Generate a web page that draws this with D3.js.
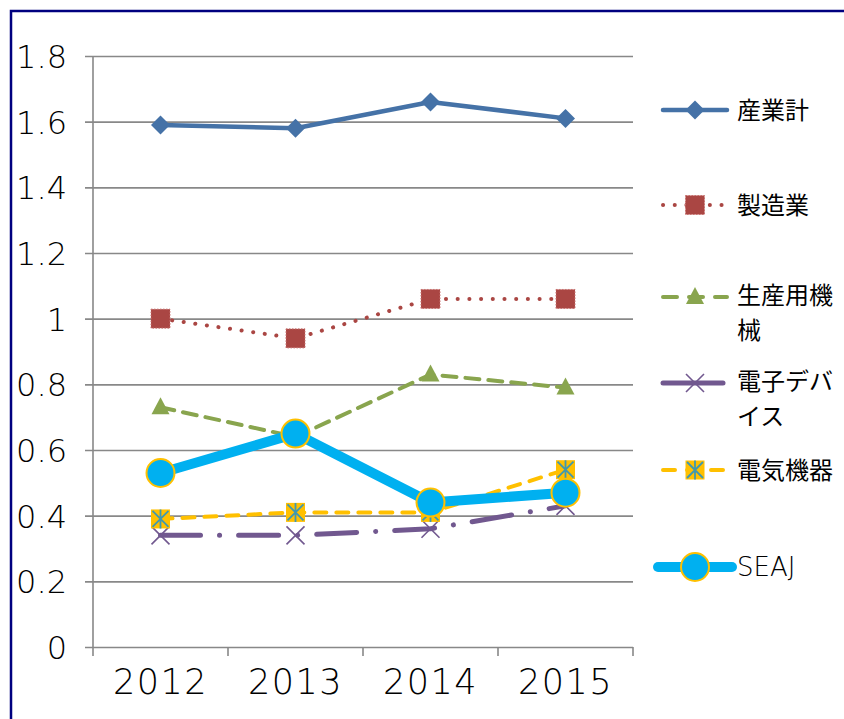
<!DOCTYPE html>
<html>
<head>
<meta charset="utf-8">
<script src="https://cdnjs.cloudflare.com/ajax/libs/d3/7.8.5/d3.min.js"></script>
<style>
  body { margin: 0; background: #fff; }
  text { font-family: "Noto Sans CJK JP", "DejaVu Sans", sans-serif; fill: #000; }
  .num { font-family: "DejaVu Sans", sans-serif; font-weight: 200; }
</style>
</head>
<body>
<svg id="chart" width="844" height="719"></svg>
<script>
var years = ["2012", "2013", "2014", "2015"];
var yTicks = [0, 0.2, 0.4, 0.6, 0.8, 1, 1.2, 1.4, 1.6, 1.8];
var seriesNames = ["産業計", "製造業", "生産用機械", "電子デバイス", "電気機器", "SEAJ"];
var legendLines = [["産業計"], ["製造業"], ["生産用機", "械"], ["電子デバ", "イス"], ["電気機器"], ["SEAJ"]];
var sangyokei = [1.59, 1.58, 1.66, 1.61];
var seizogyo = [1.00, 0.94, 1.06, 1.06];
var seisanyoKikai = [0.73, 0.64, 0.83, 0.79];
var denshiDevice = [0.34, 0.34, 0.36, 0.43];
var denkiKiki = [0.39, 0.41, 0.41, 0.54];
var seaj = [0.53, 0.65, 0.44, 0.47];

var allValues = [sangyokei, seizogyo, seisanyoKikai, denshiDevice, denkiKiki, seaj];

// styles for each series
var styles = [
    {color: "#4572A7", width: 4.5, dash: null, marker: "diamond"},
    {color: "#AA4643", width: 4, dash: "0.1,11.6", marker: "square"},
    {color: "#89A54E", width: 4, dash: "14,9", marker: "triangle"},
    {color: "#71588F", width: 5, dash: "40,19,0.1,19", marker: "x"},
    {color: "#FFC000", width: 4, dash: "12,10", marker: "star"},
    {color: "#00B0F0", width: 10, dash: null, marker: "circle"}
];

var svg = d3.select("#chart");

// outer frame
svg.append("path")
    .attr("d", "M11,760 L11,11 L900,11")
    .attr("fill", "none")
    .attr("stroke", "#00007F")
    .attr("stroke-width", 2.5);

var x = d3.scaleBand().domain(years).range([93, 633]);
var y = d3.scaleLinear().domain([0, 1.8]).range([647, 56]);

// y axis with gridlines
var yAxis = svg.append("g")
    .attr("transform", "translate(93,0)")
    .call(d3.axisLeft(y).tickValues(yTicks).tickFormat(d3.format("")).tickSize(8).tickPadding(18));
yAxis.select(".domain").remove();
yAxis.selectAll(".tick line")
    .attr("x1", -8)
    .attr("x2", 540)
    .attr("stroke", "#888")
    .attr("stroke-width", 1.6);
yAxis.selectAll(".tick text")
    .attr("class", "num")
    .style("font-size", "32px")
    .style("font-family", "'DejaVu Sans', sans-serif")
    .style("font-weight", 200)
    .attr("dy", "0.36em")
    .attr("fill", "#000");

svg.append("line")
    .attr("x1", 93).attr("x2", 93)
    .attr("y1", y(1.8)).attr("y2", y(0))
    .attr("stroke", "#888")
    .attr("stroke-width", 1.6);

// x axis ticks at category boundaries
var bounds = years.map(function(d){ return x(d); }).concat([x(years[years.length - 1]) + x.bandwidth()]);
svg.selectAll(".xtick")
    .data(bounds)
    .enter().append("line")
    .attr("x1", function(d){ return d; })
    .attr("x2", function(d){ return d; })
    .attr("y1", y(0))
    .attr("y2", y(0) + 9)
    .attr("stroke", "#888")
    .attr("stroke-width", 1.6);

svg.selectAll(".xlabel")
    .data(years)
    .enter().append("text")
    .attr("class", "num")
    .attr("x", function(d){ return x(d) + x.bandwidth() / 2; })
    .attr("y", 694)
    .attr("text-anchor", "middle")
    .style("font-size", "35px")
    .style("letter-spacing", "1.5px")
    .text(function(d){ return d; });

function drawMarker(g, type, cx, cy, st) {
    if (type === "diamond") {
        g.append("path")
            .attr("d", "M" + cx + "," + (cy - 9.5) + " L" + (cx + 9.5) + "," + cy + " L" + cx + "," + (cy + 9.5) + " L" + (cx - 9.5) + "," + cy + "Z")
            .attr("fill", st.color);
    } else if (type === "square") {
        g.append("rect")
            .attr("x", cx - 9.5).attr("y", cy - 9.5)
            .attr("width", 19).attr("height", 19)
            .attr("fill", st.color)
            .attr("stroke", "#C87270")
            .attr("stroke-width", 1)
            .attr("stroke-dasharray", "1.5,1.5");
    } else if (type === "triangle") {
        g.append("path")
            .attr("d", "M" + cx + "," + (cy - 10) + " L" + (cx + 9) + "," + (cy + 7) + " L" + (cx - 9) + "," + (cy + 7) + "Z")
            .attr("fill", st.color);
    } else if (type === "x") {
        g.append("path")
            .attr("d", "M" + (cx - 9) + "," + (cy - 9) + " L" + (cx + 9) + "," + (cy + 9) + " M" + (cx + 9) + "," + (cy - 9) + " L" + (cx - 9) + "," + (cy + 9))
            .attr("stroke", st.color)
            .attr("stroke-width", 1.6)
            .attr("fill", "none");
    } else if (type === "star") {
        g.append("rect")
            .attr("x", cx - 9.5).attr("y", cy - 9.5)
            .attr("width", 19).attr("height", 19)
            .attr("fill", st.color);
        g.append("path")
            .attr("d", "M" + (cx - 8) + "," + (cy - 8) + " L" + (cx + 8) + "," + (cy + 8) +
                " M" + (cx + 8) + "," + (cy - 8) + " L" + (cx - 8) + "," + (cy + 8) +
                " M" + cx + "," + (cy - 9.5) + " L" + cx + "," + (cy + 9.5))
            .attr("stroke", "#4198AF")
            .attr("stroke-width", 1.8)
            .attr("fill", "none");
    } else if (type === "circle") {
        g.append("circle")
            .attr("cx", cx).attr("cy", cy).attr("r", 14)
            .attr("fill", st.color)
            .attr("stroke", "#FFC000")
            .attr("stroke-width", 2);
    }
}

var line = d3.line()
    .x(function(d, i){ return x(years[i]) + x.bandwidth() / 2; })
    .y(function(d){ return y(d); });

allValues.forEach(function(vals, k){
    var st = styles[k];
    var g = svg.append("g").attr("class", "series");
    g.append("path")
        .datum(vals)
        .attr("d", line)
        .attr("fill", "none")
        .attr("stroke", st.color)
        .attr("stroke-width", st.width)
        .attr("stroke-linecap", "round")
        .attr("stroke-linejoin", "round")
        .attr("stroke-dasharray", st.dash);
    vals.forEach(function(v, i){
        drawMarker(g, st.marker, x(years[i]) + x.bandwidth() / 2, y(v), st);
    });
});

// legend
var legendY = [110, 205, 297, 383, 470, 567];
var legendDash = [null, "0.1,11.6", "14,12", "60,19,0.1,19", "12,12", null];
seriesNames.forEach(function(name, k){
    var st = styles[k];
    var g = svg.append("g").attr("class", "legend");
    var ly = legendY[k];
    g.append("line")
        .attr("x1", k === 5 ? 658 : 663).attr("x2", k === 5 ? 732 : 727)
        .attr("y1", ly).attr("y2", ly)
        .attr("stroke", st.color)
        .attr("stroke-width", k === 5 ? 10 : st.width)
        .attr("stroke-linecap", "round")
        .attr("stroke-dasharray", legendDash[k]);
    drawMarker(g, st.marker, 695, ly, st);
    legendLines[k].forEach(function(s, j){
        var shift = legendLines[k].length > 1 ? (j === 0 ? -1.5 : 33.5) : 0;
        var t = g.append("text")
            .attr("x", 737)
            .attr("y", ly + shift)
            .attr("dy", "0.36em")
            .style("font-size", "24px")
            .text(s);
        if (name === "SEAJ") {
            t.attr("class", "num").style("font-size", "26px");
        }
    });
});
</script>
</body>
</html>
